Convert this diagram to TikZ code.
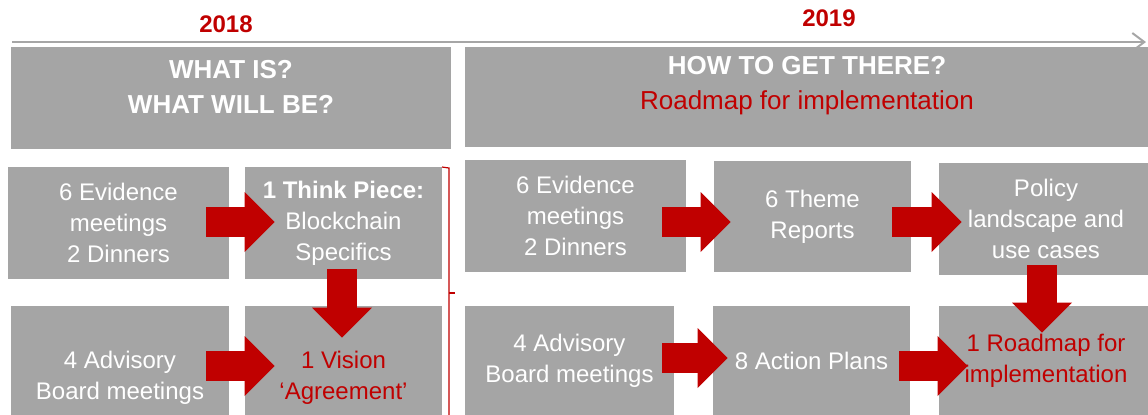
\documentclass[tikz,border=0pt]{standalone}
\usepackage{fontspec}
\setmainfont{Liberation Sans}
\definecolor{boxgray}{RGB}{165,165,165}
\definecolor{roadred}{RGB}{192,0,0}
\definecolor{axisgray}{RGB}{166,166,166}
\usepackage{tikz}
\usetikzlibrary{arrows.meta, positioning, calc}

\begin{document}
\begin{tikzpicture}[x=0.5pt, y=-0.5pt,
  box/.style={fill=boxgray, inner sep=0pt, align=center, text=white, font=\fontsize{12}{15.5}\selectfont},
  headbox/.style={fill=boxgray, inner sep=0pt},
  headtext/.style={align=center, text=white, font=\fontsize{13}{17.5}\selectfont\bfseries},
  year/.style={text=roadred, font=\fontsize{12}{14}\selectfont\bfseries},
  bigarrow/.style={line width=15pt, roadred, -{Triangle[length=15pt, width=30pt, line width=0pt]}}
]
  \useasboundingbox (0,0) rectangle (1148,414);
  \clip (0,0) rectangle (1148,414);

  % Timeline
  \node[year] (y18) at (226,24) {2018};
  \node[year] (y19) at (829,18) {2019};
  \coordinate (tl0) at (12,42);
  \coordinate (tl1) at (1146,42);
  \draw[axisgray, line width=1pt, -{Straight Barb[length=6pt, width=9pt]}] (tl0) -- (tl1);

  % Header boxes
  \node[headbox, minimum width=220pt, minimum height=51pt] (what) at (231,98) {};
  \node[headtext] (whattxt) at (231,87) {WHAT IS?\\WHAT WILL BE?};
  \node[headbox, minimum width=342.5pt, minimum height=50pt] (how) at (807.5,97) {};
  \node[headtext] (howtxt) at (807,86) {HOW TO GET THERE?\\{\mdseries\color{roadred}Roadmap for implementation}};

  % 2018 boxes
  \node[box, minimum width=110.5pt, minimum height=56pt] (ev18) at (118.5,223) {6 Evidence\\meetings\\2 Dinners};
  \node[box, minimum width=98.5pt, minimum height=56pt] (think) at (343.5,223) {\textbf{1 Think Piece:}\\Blockchain\\Specifics};
  \node[box, minimum width=109pt, minimum height=72pt] (adv18) at (120,378) {4 Advisory\\Board meetings};
  \node[box, minimum width=98.5pt, minimum height=72pt, text=roadred] (vision) at (343.5,378) {1 Vision\\‘Agreement’};

  % 2019 boxes
  \node[box, minimum width=110.5pt, minimum height=56pt] (ev19) at (575.5,216) {6 Evidence\\meetings\\2 Dinners};
  \node[box, minimum width=98.5pt, minimum height=55.5pt] (theme) at (812.5,216.5) {6 Theme\\Reports};
  \node[box, minimum width=107pt, minimum height=56pt] (policy) at (1046,219) {Policy\\landscape and\\use cases};
  \node[box, minimum width=104.5pt, minimum height=55pt] (adv19) at (569.5,361) {4 Advisory\\Board meetings};
  \node[box, minimum width=98.5pt, minimum height=55pt] (plans) at (811.5,361) {8 Action Plans};
  \node[box, minimum width=107pt, minimum height=55pt, text=roadred] (roadmap) at (1046,361) {1 Roadmap for\\implementation};

  % Bracket
  \draw[roadred, line width=0.6pt] (442,167) -- (449,168) -- (449,420);
  \draw[roadred, line width=0.6pt] (449,293) -- (455,293);

  % Block arrows
  \draw[bigarrow] ($(ev18.east)+(-23,-1)$) -- ($(think.west)+(30,-1)$);
  \draw[bigarrow] ($(adv18.east)+(-23,-12)$) -- ($(vision.west)+(30,-12)$);
  \draw[bigarrow] ($(think.south)+(-1.5,-10)$) -- ($(vision.north)+(-1.5,32)$);
  \draw[bigarrow] ($(ev19.east)+(-24,6)$) -- ($(theme.west)+(17,5.5)$);
  \draw[bigarrow] ($(theme.east)+(-19,5.5)$) -- ($(policy.west)+(23,3)$);
  \draw[bigarrow] ($(adv19.east)+(-12,-3)$) -- ($(plans.west)+(15,-3)$);
  \draw[bigarrow] ($(plans.east)+(-11,5)$) -- ($(roadmap.west)+(29,5)$);
  \draw[bigarrow] ($(policy.south)+(-4,-10)$) -- ($(roadmap.north)+(-4,27)$);
\end{tikzpicture}
\end{document}
